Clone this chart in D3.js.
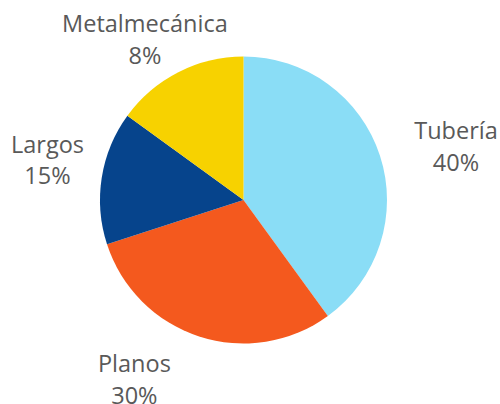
<!DOCTYPE html>
<html>
<head>
<meta charset="utf-8">
<script src="https://cdn.jsdelivr.net/npm/d3@7"></script>
<style>
  html, body { margin: 0; padding: 0; background: #fff; }
  svg { display: block; }
  text { font-family: "Open Sans", "Noto Sans", sans-serif; fill: #595959; }
</style>
</head>
<body>
<svg id="chart" width="500" height="404"></svg>
<script>
const categories = ["Tubería", "Planos", "Largos", "Metalmecánica"];
const values = [40, 30, 15, 15];
const valueLabels = ["40%", "30%", "15%", "8%"];
const colors = ["#8ADDF6", "#F4591E", "#06448C", "#F7D200"];

const W = 500, H = 404;
const cx = 243.5, cy = 200, R = 143.5;
// label anchor placement (layout only): radius and angle (deg, clockwise from top) per slice index
const labelLayout = [
  { r: 217.4, a: 77.8 },
  { r: 216.9, a: 210.2 },
  { r: 198.6, a: 279.3 },
  { r: 182, a: 327.2 }
];

const svg = d3.select("#chart");
const g = svg.append("g").attr("transform", `translate(${cx},${cy})`);

const pie = d3.pie().sort(null).value(d => d.value);
const data = categories.map((c, i) => ({ name: c, value: values[i], label: valueLabels[i], color: colors[i], i }));
const arcs = pie(data);
const arc = d3.arc().innerRadius(0).outerRadius(R);

g.selectAll("path.slice").data(arcs).join("path")
  .attr("class", "slice")
  .attr("d", arc)
  .attr("fill", d => d.data.color);

const fs = 23.5, lh = 31.5;
const lab = g.selectAll("g.lab").data(arcs).join("g").attr("class", "lab")
  .attr("transform", d => {
    const L = labelLayout[d.data.i];
    const t = L.a * Math.PI / 180;
    return `translate(${L.r * Math.sin(t)},${-L.r * Math.cos(t)})`;
  });
lab.append("text").attr("text-anchor", "middle").attr("font-size", fs)
  .attr("y", -15).text(d => d.data.name);
lab.append("text").attr("text-anchor", "middle").attr("font-size", fs)
  .attr("y", -15 + lh).text(d => d.data.label);
</script>
</body>
</html>
